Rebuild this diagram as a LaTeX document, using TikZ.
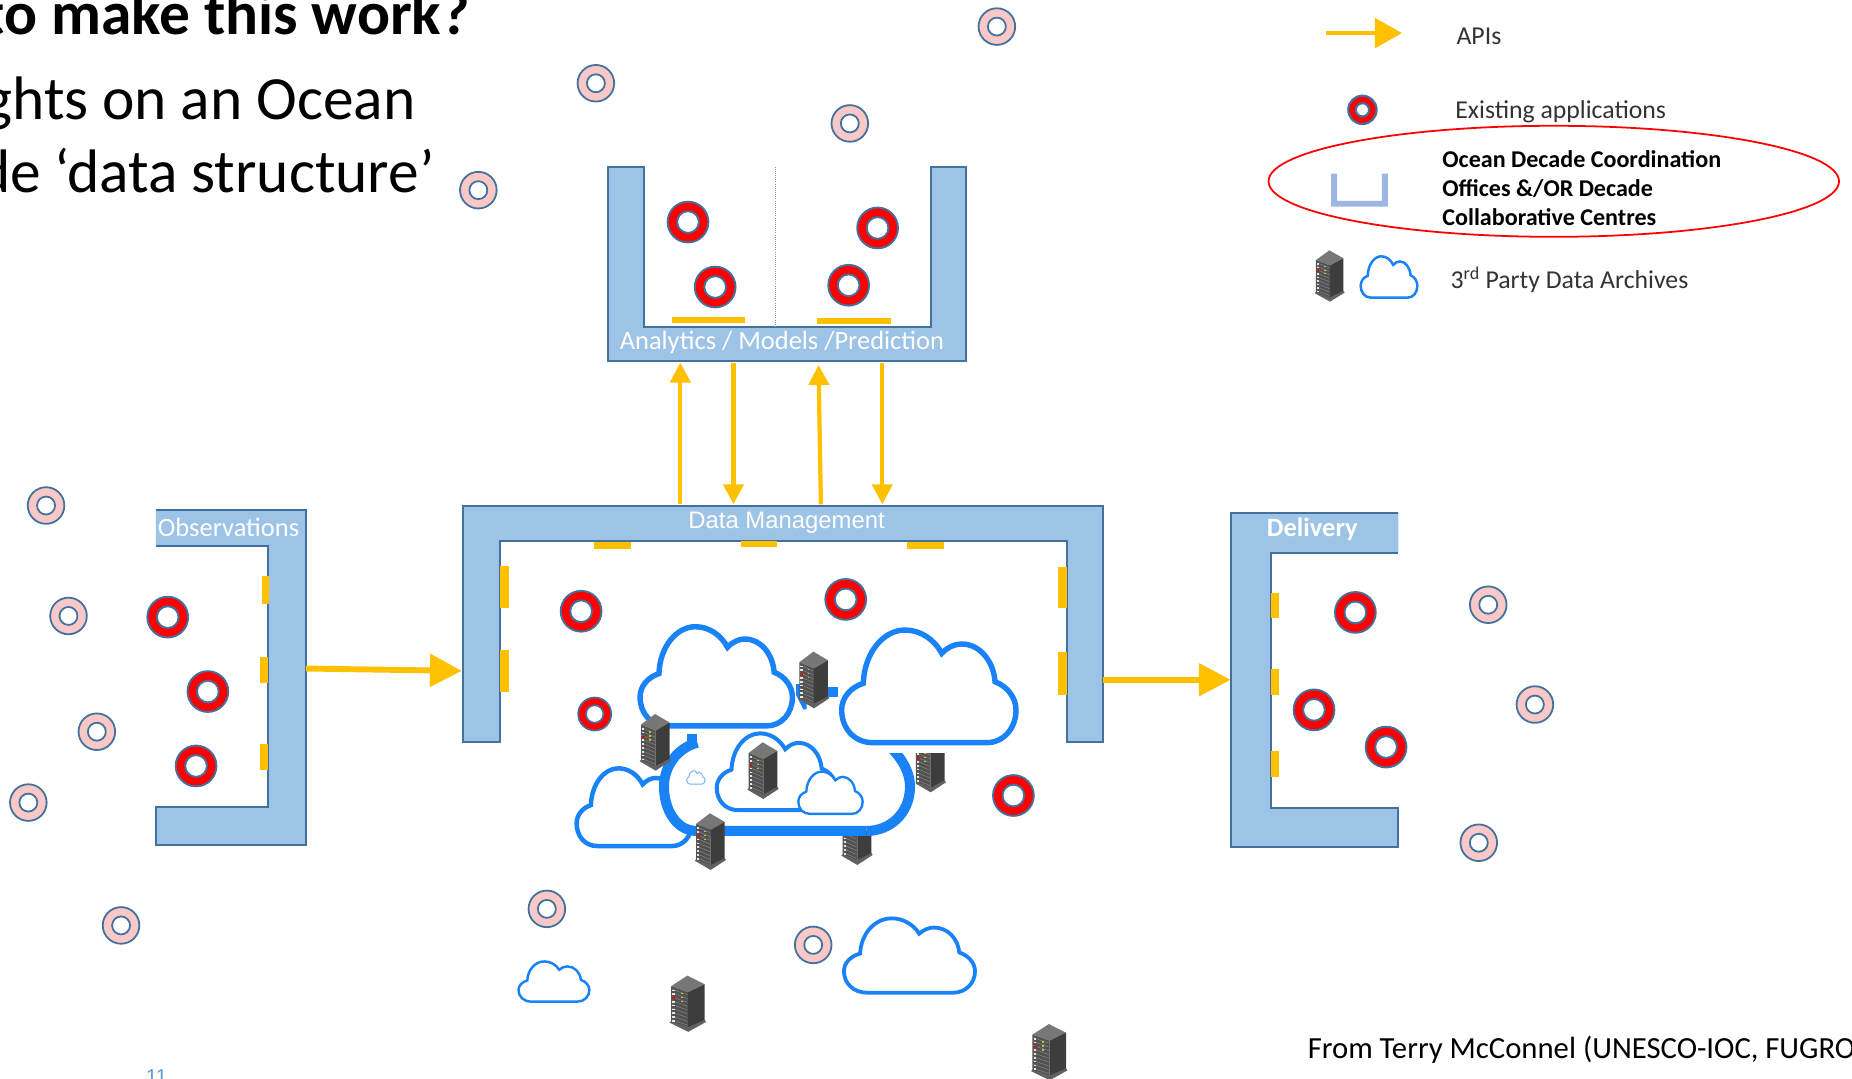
\documentclass[tikz,border=0pt]{standalone}
\usepackage{fontspec}
\setmainfont{Carlito}
\newfontfamily\arialfont{Liberation Sans}
\usetikzlibrary{arrows.meta}
\definecolor{bandblue}{HTML}{9DC3E6}
\definecolor{edgeblue}{HTML}{41719C}
\definecolor{apiyellow}{HTML}{FFC000}
\definecolor{cloudblue}{HTML}{1A82F7}
\definecolor{ringpink}{HTML}{FBC8C8}
\definecolor{legendblue}{HTML}{9DB6E3}
\definecolor{pageblue}{HTML}{5B9BD5}
\tikzset{
  band/.style={draw=edgeblue,line width=1.7pt,fill=bandblue,line join=miter},
  redring/.style={circle,draw=edgeblue,line width=1.6pt,fill=red,minimum size=34.5pt,inner sep=0pt,
    path picture={\draw[edgeblue,line width=1.6pt,fill=white] (path picture bounding box.center) circle (9.2);}},
  smallredring/.style={circle,draw=edgeblue,line width=1.4pt,fill=red,minimum size=28pt,inner sep=0pt,
    path picture={\draw[edgeblue,line width=1.4pt,fill=white] (path picture bounding box.center) circle (7.4);}},
  legendring/.style={circle,draw=edgeblue,line width=1.8pt,fill=red,minimum size=24pt,inner sep=0pt,
    path picture={\draw[edgeblue,line width=1.8pt,fill=white] (path picture bounding box.center) circle (5.6);}},
  pinkring/.style={circle,draw=edgeblue,line width=1.5pt,fill=ringpink,minimum size=31pt,inner sep=0pt,
    path picture={\draw[edgeblue,line width=1.5pt,fill=white] (path picture bounding box.center) circle (7.6);}},
  apibar/.style={fill=apiyellow},
  api/.style={draw=apiyellow,line width=3.6pt,-{Triangle[length=17pt,width=17pt]}},
  bigapi/.style={draw=apiyellow,line width=5pt,-{Triangle[length=27pt,width=27pt]}},
  legendapi/.style={draw=apiyellow,line width=3.8pt,-{Triangle[length=23pt,width=25pt]}},
  bandlabel/.style={text=white,font=\fontsize{22.4}{26}\selectfont,inner sep=0pt},
  legendlabel/.style={text=black!80,font=\fontsize{21.8}{26}\selectfont,anchor=base west,inner sep=0pt},
  boldlabel/.style={text=black,font=\bfseries\fontsize{20.4}{24}\selectfont,anchor=base west,inner sep=0pt},
  slidetext/.style={text=black,font=\fontsize{52}{60}\selectfont,anchor=base east,inner sep=0pt},
  server/.pic={
    \fill[black!45!white!85!black] (0,0)--(44,26)--(2,50)--(-42,32)--cycle;
    \fill[black!68] (-42,32)--(2,50)--(2,160)--(-42,142)--cycle;
    \fill[black!76] (2,50)--(44,26)--(44,138)--(2,160)--cycle;
    \fill[black!62] (-46,142)--(-42,138)--(2,156)--(44,134)--(48,140)--(2,170)--cycle;
    \foreach \i in {0,...,8}{
      \draw[black!45,line width=.35pt] (-40,{41+11.5*\i})--(0,{58+11.5*\i});
      \fill[black!10] (-39,{42+11.5*\i}) rectangle (-32,{47+11.5*\i});
    }
    \fill[red] (-39,65) rectangle (-31,71);
    \foreach \j in {0,1,2}{\fill[yellow!75!black] (-17,{52+12*\j}) rectangle (-12,{56+12*\j});}
  },
}
\newcommand{\cloudat}[6][cloudblue]{%
  \draw[#1,line width=#6pt,fill=white,line join=miter,shift={(#2,#3)},x=#4pt,y=-#5pt]
    (.18,1) .. controls (.07,1) and (0,.87) .. (0,.71)
    .. controls (0,.6) and (.05,.51) .. (.124,.473)
    .. controls (.13,.2) and (.24,0) .. (.363,0)
    .. controls (.45,0) and (.53,.08) .. (.574,.207)
    .. controls (.61,.15) and (.65,.124) .. (.688,.124)
    .. controls (.79,.124) and (.87,.27) .. (.88,.459)
    .. controls (.95,.5) and (1,.6) .. (1,.71)
    .. controls (1,.87) and (.93,1) .. (.83,1) -- cycle;}
\newcommand{\serverat}[4]{%
  \begin{scope}[shift={(#1,#2)},x=#3pt,y=-#4pt]\pic at (0,0) {server};\end{scope}}
\begin{document}
\begin{tikzpicture}[x=1pt,y=-1pt]
\useasboundingbox (0,0) rectangle (1568,912.7);
\fill[white] (0,0) rectangle (1568,912.7);

% slide text
\node[slidetext,font=\bfseries\fontsize{52}{60}\selectfont] (t1) at (398,29) {to make this work?};
\node[slidetext] (t2) at (352,101) {ghts on an Ocean};
\node[slidetext] (t3) at (368,163) {de ‘data structure’};

% Analytics U
\draw[band] (515,141)--(515,306)--(818,306)--(818,141)--(788,141)--(788,277)--(545,277)--(545,141)--cycle;
\draw[edgeblue!70!white,densely dotted,line width=.8pt] (656.5,141)--(656.5,277);
\node[bandlabel] (analytics) at (662,290) {Analytics / Models /Prediction};
\fill[apibar] (569,268.5) rectangle (631,273.5);
\fill[apibar] (692,269.5) rectangle (754,274.5);

% Data Management
\draw[band] (392,628)--(392,428)--(934,428)--(934,628)--(903,628)--(903,458)--(423,458)--(423,628)--cycle;
\node[bandlabel,font=\arialfont\fontsize{20.2}{24}\selectfont] (dm) at (666,443) {Data Management};
\fill[apibar] (503,459) rectangle (534,464.5);
\fill[apibar] (627,458) rectangle (658,463.5);
\fill[apibar] (768,459) rectangle (799,464.5);
\fill[apibar] (423,479) rectangle (431,515);
\fill[apibar] (423,550) rectangle (431,586);
\fill[apibar] (896,480) rectangle (903,515);
\fill[apibar] (896,552) rectangle (903,588);

% Observations
\draw[band] (132,432)--(259,432)--(259,715)--(132,715)--(132,683)--(227,683)--(227,462)--(132,462);
\node[bandlabel] (obs) at (193.5,446.5) {Observations};
\fill[apibar] (222,488) rectangle (228,511);
\fill[apibar] (220,556) rectangle (227,578);
\fill[apibar] (220,630) rectangle (227,652);

% Delivery
\draw[band] (1184,434)--(1042,434)--(1042,717)--(1184,717)--(1184,684)--(1076,684)--(1076,468)--(1184,468);
\node[bandlabel,font=\bfseries\fontsize{22.4}{26}\selectfont] (delivery) at (1111,448) {Delivery};
\fill[apibar] (1076,502) rectangle (1083,523);
\fill[apibar] (1076,566) rectangle (1083,588);
\fill[apibar] (1076,636) rectangle (1083,658);

% API connectors
\coordinate (aU) at (576,427); \coordinate (aUe) at (576,307);
\coordinate (bU) at (621,307); \coordinate (bUe) at (621,427);
\coordinate (cU) at (695,427); \coordinate (cUe) at (693,309);
\coordinate (dU) at (747,307); \coordinate (dUe) at (747,427);
\draw[api] (aU)--(aUe);
\draw[api] (bU)--(bUe);
\draw[api] (cU)--(cUe);
\draw[api] (dU)--(dUe);
\coordinate (obsE) at (259,566); \coordinate (dmW) at (391,568);
\coordinate (dmE) at (934,575.5); \coordinate (delW) at (1042,575.5);
\draw[bigapi] (obsE)--(dmW);
\draw[bigapi] (dmE)--(delW);

% cloud cluster
\cloudat{488.2}{650.5}{97.4}{65.8}{3.8}
\begin{scope}[shift={(457.2,474.1)},x=.2822pt,y=-.2822pt]
  \pic at (950,745) {server};
  \begin{scope}
    \clip (1128,580) rectangle (1225,700);
    \pic at (1170,527) {server};
  \end{scope}
  \fill[white] (470,813) .. controls (410,813) and (372,750) .. (372,680)
     .. controls (372,620) and (410,565) .. (470,545) -- (1060,575)
     .. controls (1095,610) and (1110,640) .. (1110,680)
     .. controls (1110,760) and (1050,813) .. (980,813) -- cycle;
  \begin{scope}
    \clip (950,580) rectangle (1150,840);
    \draw[cloudblue,line width=8.5pt] (1050,560) .. controls (1090,600) and (1110,640) .. (1110,680)
      .. controls (1110,760) and (1050,813) .. (980,813);
  \end{scope}
  \draw[cloudblue,line width=8.5pt] (980,813) -- (470,813)
     .. controls (410,813) and (372,750) .. (372,680)
     .. controls (372,620) and (410,565) .. (472,548);
  \fill[cloudblue] (442,523) rectangle (472,565);
\end{scope}
\cloudat{541.9}{530.6}{129}{84}{4.6}
\cloudat{712.6}{533.4}{147.6}{95.4}{4.6}
\cloudat{606.8}{620.9}{101}{65}{3.4}
\cloudat{675.9}{653.3}{54.5}{35.8}{2}
\cloudat[cloudblue!60!white]{581.4}{652.5}{15.5}{11.3}{.8}
\begin{scope}[shift={(457.2,474.1)},x=.2822pt,y=-.2822pt]
  \fill[cloudblue] (850,382) rectangle (895,410);
  \fill[cloudblue] (768,372)--(800,375)--(800,448)--(790,448)--(768,405)--cycle;
  \pic at (820,275) {server};
  \pic at (345,462) {server};
  \pic at (668,547) {server};
  \pic at (510,760) {server};
\end{scope}

% lower and legend clouds, servers
\cloudat{714.5}{777.5}{111}{63}{3.2}
\cloudat{439}{814}{60}{34}{2.1}
\cloudat{1152}{217}{48}{35}{2.1}
\serverat{582}{826}{.33}{.28}
\serverat{888}{867}{.33}{.28}
\serverat{1125.5}{212}{.27}{.255}

% red rings
\foreach \n/\x/\y in {u1/582.5/188,u2/605.5/243,u3/743/193,u4/718.5/241.5,
  o1/142/522.5,o2/176/585.5,o3/166/648.5,
  m1/492/517.5,m2/716/507.5,m3/858/673.5,
  d1/1147.5/518.5,d2/1112.5/601,d3/1173.5/632.5}
  \node[redring] (red\n) at (\x,\y) {};
\node[smallredring] (redm4) at (503.5,604.5) {};
\node[legendring] (redleg) at (1153.5,93) {};

% pink rings
\foreach \n/\x/\y in {a/844/22.5,b/504.5/70.5,c/719.5/104.5,d/405/161,e/39/428,f/58/521.5,g/82/619.5,h/24/679.5,
  i/102.5/783.5,j/463/769.5,k/688.5/800,l/1260/512,m/1299.5/596.5,n/1252/713.5}
  \node[pinkring] (pink\n) at (\x,\y) {};

% legend
\coordinate (legA) at (1123,28); \coordinate (legB) at (1187,28);
\draw[legendapi] (legA)--(legB);
\node[legendlabel] (lapi) at (1233,38) {APIs};
\node[legendlabel] (lapp) at (1232,100) {Existing applications};
\fill[legendblue] (1127,147)--(1132,147)--(1132,170)--(1170,170)--(1170,147)--(1175,147)--(1175,175)--(1127,175)--cycle;
\node[boldlabel] (lb1) at (1221,141.5) {Ocean Decade Coordination};
\node[boldlabel] (lb2) at (1221,166) {Offices \&/OR Decade};
\node[boldlabel] (lb3) at (1221,190.5) {Collaborative Centres};
\draw[red,line width=1.5pt] (1315.5,153.5) ellipse (241.5 and 47);
\node[legendlabel] (ldata) at (1228,244) {3\textsuperscript{rd} Party Data Archives};

\node[anchor=base west,inner sep=0pt,font=\fontsize{26}{30}\selectfont] (from) at (1107,896) {From Terry McConnel (UNESCO-IOC, FUGRO};
\node[anchor=base west,inner sep=0pt,text=pageblue,font=\arialfont\fontsize{17}{20}\selectfont] (pg) at (123.5,917.5) {11};
\end{tikzpicture}
\end{document}
